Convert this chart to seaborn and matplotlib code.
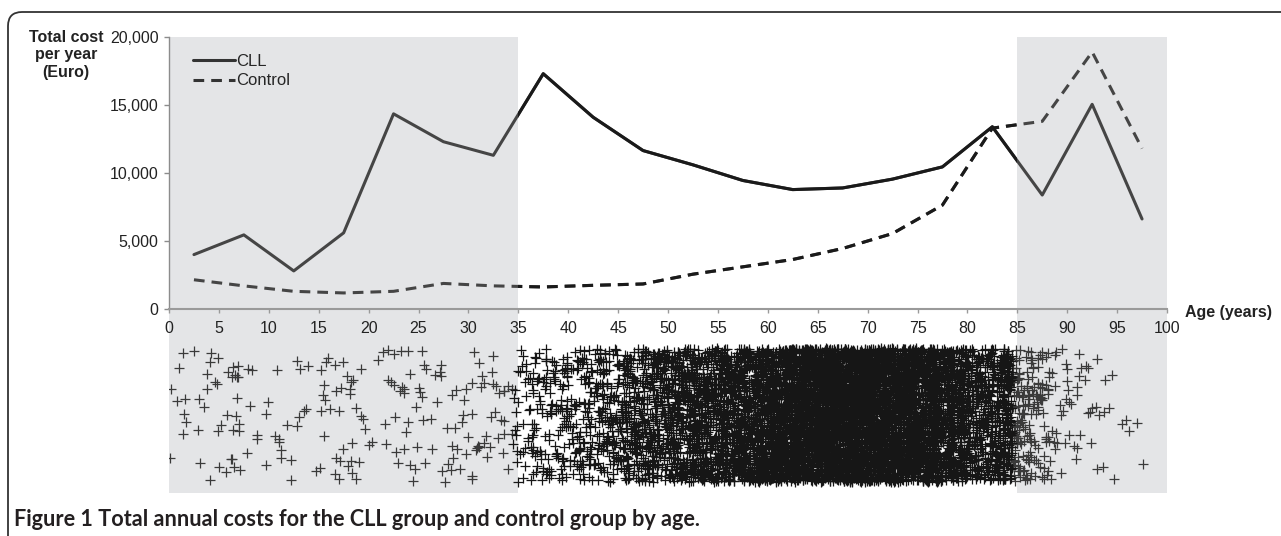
import numpy as np
import pandas as pd
import seaborn as sns
import matplotlib.pyplot as plt
from matplotlib.lines import Line2D
from matplotlib.patches import FancyBboxPatch, Rectangle
from matplotlib.transforms import IdentityTransform

# mean annual cost per 5-year age band (Euro)
age_mid = [2.5, 7.5, 12.5, 17.5, 22.5, 27.5, 32.5, 37.5, 42.5, 47.5,
           52.5, 57.5, 62.5, 67.5, 72.5, 77.5, 82.5, 87.5, 92.5, 97.5]
cll_cost = [4000, 5450, 2800, 5600, 14350, 12300, 11300, 17300, 14100, 11650,
            10600, 9450, 8780, 8900, 9550, 10450, 13400, 8380, 15050, 6620]
control_cost = [2150, 1700, 1300, 1180, 1300, 1880, 1700, 1620, 1740, 1840,
                2560, 3100, 3640, 4450, 5550, 7640, 13300, 13800, 18900, 11800]

# number of patients per year of age (0..99), shown as jittered crosses
patients_per_age = [2, 4, 3, 4, 6, 6, 9, 9, 4, 2,
                    3, 6, 3, 4, 3, 5, 6, 10, 9, 6,
                    3, 2, 5, 8, 9, 8, 5, 6, 7, 6,
                    8, 8, 9, 6, 8, 20, 25, 28, 30, 33,
                    36, 40, 45, 50, 55, 65, 80, 85, 90, 100,
                    110, 120, 130, 140, 150, 150, 160, 170, 180, 200,
                    220, 240, 260, 280, 300, 320, 330, 340, 340, 340,
                    330, 320, 310, 300, 290, 270, 250, 230, 210, 180,
                    150, 130, 110, 110, 160, 65, 48, 36, 25, 12,
                    10, 9, 7, 4, 4, 3, 2, 1, 1, 0]

x_ticks = list(range(0, 101, 5))
y_ticks = [0, 5000, 10000, 15000, 20000]

df = pd.DataFrame({"age": age_mid, "CLL": cll_cost, "Control": control_cost})
ages = np.repeat(np.arange(100), patients_per_age)
pts = pd.DataFrame({"age": ages, "y": -7800.0})

sns.set_style("white")
plt.rcParams["font.family"] = ["Liberation Sans", "DejaVu Sans"]

fig = plt.figure(figsize=(12.81, 5.36), dpi=100)
ax = fig.add_axes([169 / 1281, 43 / 536, 998 / 1281, 456 / 536])

ax.axvspan(0, 35, color="#e4e5e7", lw=0, zorder=0)
ax.axvspan(85, 100, color="#e4e5e7", lw=0, zorder=0)

# age distribution strip below the axis
np.random.seed(3)
outer = pts[(pts.age < 35) | (pts.age >= 85)]
inner = pts[(pts.age >= 35) & (pts.age < 85)]
for sub, col in [(outer, "#3a3a3a"), (inner, "#161616")]:
    sns.regplot(data=sub, x="age", y="y", fit_reg=False, x_jitter=0.5,
                y_jitter=4900, marker="+", color=col, ax=ax,
                scatter_kws={"s": 42, "linewidths": 0.9, "alpha": 1})

# cost lines: lighter in the shaded bands, darker in the middle
lw = 2.2
dash = (3.5, 2.3)
for clip in [False, True]:
    col = "#1a1a1a" if clip else "#454545"
    sns.lineplot(data=df, x="age", y="CLL", color=col, lw=lw, ax=ax)
    l1 = ax.lines[-1]
    sns.lineplot(data=df, x="age", y="Control", color=col, lw=lw, ax=ax)
    l2 = ax.lines[-1]
    l2.set_dashes(dash)
    if clip:
        for ln in (l1, l2):
            ln.set_clip_path(Rectangle((35, -20000), 50, 60000, transform=ax.transData))

ax.set_xlim(0, 100)
ax.set_ylim(-13530, 20000)
ax.set_xlabel("")
ax.set_ylabel("")

for s in ["top", "right"]:
    ax.spines[s].set_visible(False)
ax.spines["bottom"].set_position(("data", 0))
ax.spines["bottom"].set_color("#9a9a9a")
ax.spines["bottom"].set_linewidth(1.5)
ax.spines["left"].set_bounds(0, 20000)
ax.spines["left"].set_color("#8c8c8c")
ax.spines["left"].set_linewidth(1.0)

ax.set_xticks(x_ticks)
ax.set_xticklabels([str(t) for t in x_ticks])
ax.set_yticks(y_ticks)
ax.set_yticklabels([f"{t:,}" for t in y_ticks])
ax.tick_params(axis="x", direction="out", length=3, width=1, color="#9a9a9a",
               pad=6, labelsize=11.5, labelcolor="#222222", bottom=True)
ax.tick_params(axis="y", direction="out", length=3.5, width=1, color="#8c8c8c",
               pad=4, labelsize=11.5, labelcolor="#222222", left=True)

handles = [Line2D([], [], color="#333333", lw=lw),
           Line2D([], [], color="#333333", lw=lw, dashes=dash)]
ax.legend(handles, ["CLL", "Control"], loc="upper left",
          bbox_to_anchor=(0.024, 0.962), frameon=False, fontsize=12,
          handlelength=2.5, handletextpad=0.1, labelspacing=0.25,
          borderpad=0, borderaxespad=0)

fig.text(66 / 1281, 1 - 30 / 536, "Total cost\nper year\n(Euro)", ha="center",
         va="top", fontsize=11.5, fontweight="bold", color="#222222")
fig.text(1185 / 1281, 1 - 313 / 536, "Age (years)", ha="left", va="center",
         fontsize=11.5, fontweight="bold", color="#222222")

fig.text(14 / 1281, 1 - 519 / 536,
         "Figure 1 Total annual costs for the CLL group and control group by age.",
         ha="left", va="center", fontsize=15.6, fontweight="bold",
         color="#231f20", family=["Lato", "DejaVu Sans"])

frame = FancyBboxPatch((8, -30), 1320, 536 - 12 + 30,
                       boxstyle="round,pad=0,rounding_size=14",
                       transform=IdentityTransform(), fill=False,
                       edgecolor="#333333", lw=1.3)
fig.add_artist(frame)

fig.savefig("out.png", dpi=100)
plt.close(fig)
